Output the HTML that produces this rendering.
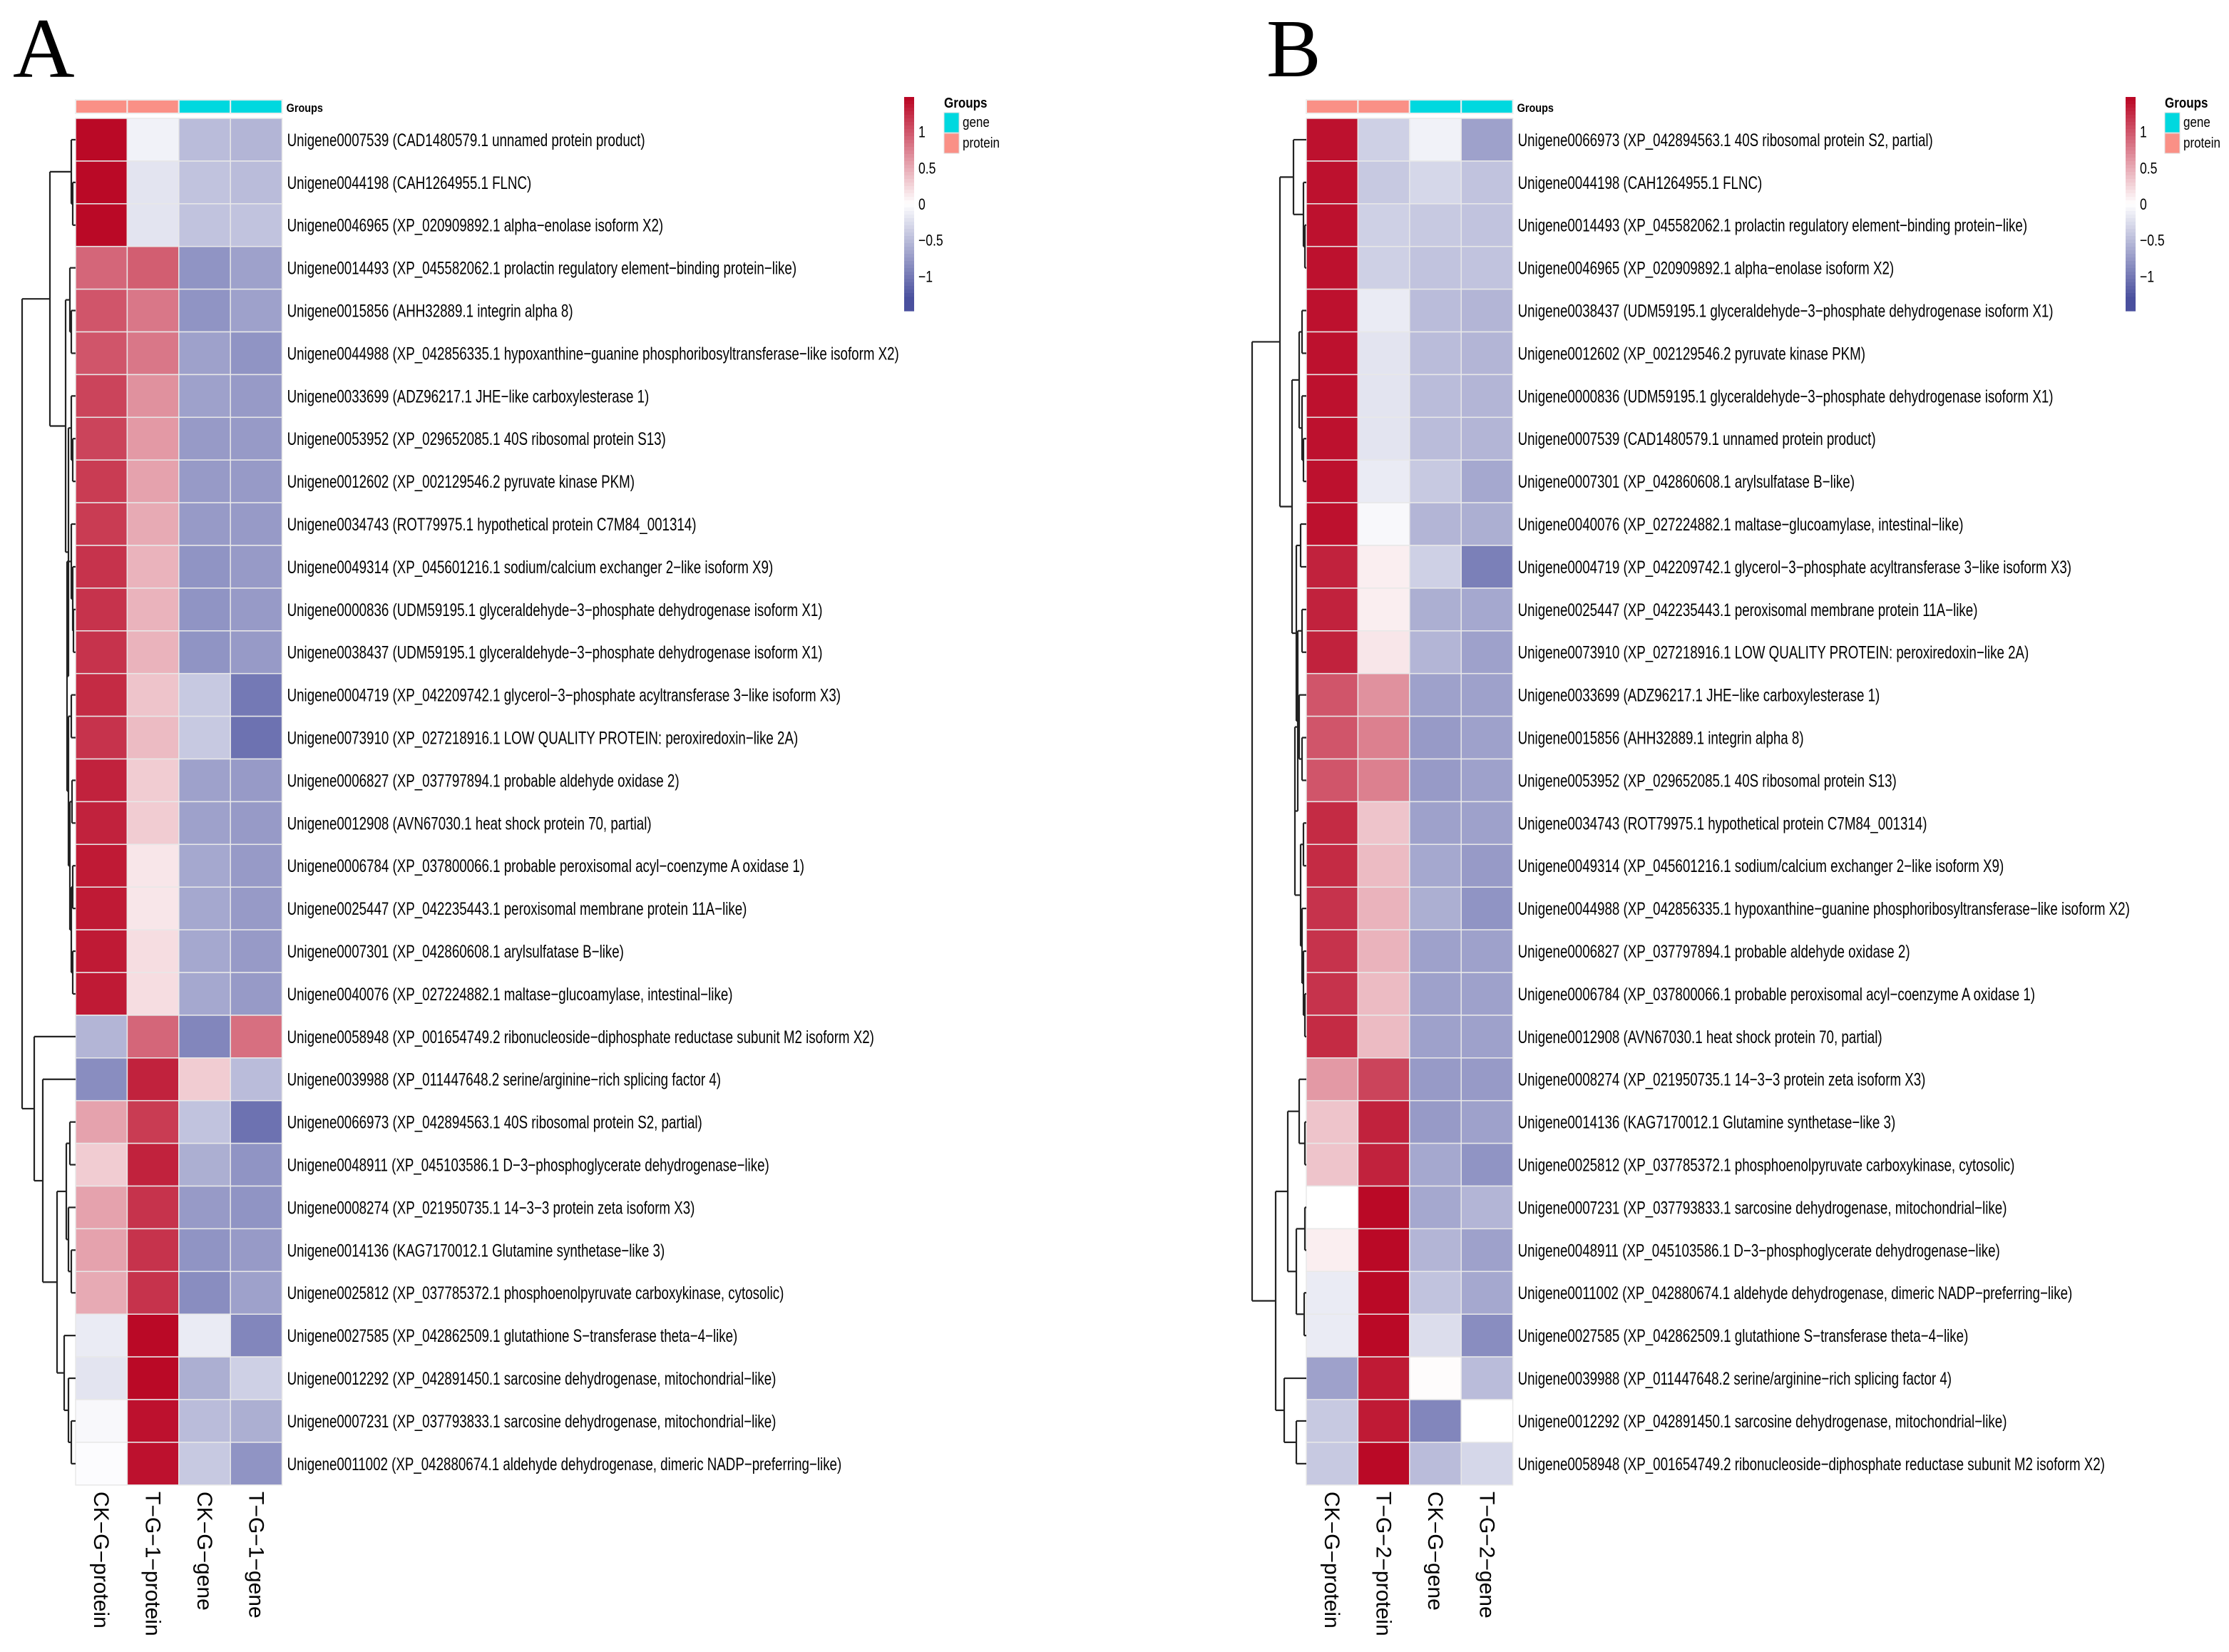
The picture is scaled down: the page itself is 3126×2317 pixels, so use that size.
<!DOCTYPE html>
<html><head><meta charset="utf-8"><style>
html,body{margin:0;padding:0;background:#fff;}
svg{display:block;}
text{font-family:"Liberation Sans",sans-serif;}
</style></head><body>
<svg id="chart" xmlns="http://www.w3.org/2000/svg" width="3126" height="2317" viewBox="0 0 3126 2317">
<rect x="0" y="0" width="3126" height="2317" fill="#fff"/>
<text x="18" y="108" font-size="120" style="font-family:'Liberation Serif',serif">A</text>
<text x="1776" y="107" font-size="115" style="font-family:'Liberation Serif',serif">B</text>
<g id="pa"></g>
<g id="pb"></g>
</svg>
<script>
const colsA = ["CK\u2212G\u2212protein","T\u2212G\u22121\u2212protein","CK\u2212G\u2212gene","T\u2212G\u22121\u2212gene"];
const colsB = ["CK\u2212G\u2212protein","T\u2212G\u22122\u2212protein","CK\u2212G\u2212gene","T\u2212G\u22122\u2212gene"];
const groupsCols = ["protein","protein","gene","gene"];
const rowsA = [
"Unigene0007539 (CAD1480579.1 unnamed protein product)",
"Unigene0044198 (CAH1264955.1 FLNC)",
"Unigene0046965 (XP_020909892.1 alpha\u2212enolase isoform X2)",
"Unigene0014493 (XP_045582062.1 prolactin regulatory element\u2212binding protein\u2212like)",
"Unigene0015856 (AHH32889.1 integrin alpha 8)",
"Unigene0044988 (XP_042856335.1 hypoxanthine\u2212guanine phosphoribosyltransferase\u2212like isoform X2)",
"Unigene0033699 (ADZ96217.1 JHE\u2212like carboxylesterase 1)",
"Unigene0053952 (XP_029652085.1 40S ribosomal protein S13)",
"Unigene0012602 (XP_002129546.2 pyruvate kinase PKM)",
"Unigene0034743 (ROT79975.1 hypothetical protein C7M84_001314)",
"Unigene0049314 (XP_045601216.1 sodium/calcium exchanger 2\u2212like isoform X9)",
"Unigene0000836 (UDM59195.1 glyceraldehyde\u22123\u2212phosphate dehydrogenase isoform X1)",
"Unigene0038437 (UDM59195.1 glyceraldehyde\u22123\u2212phosphate dehydrogenase isoform X1)",
"Unigene0004719 (XP_042209742.1 glycerol\u22123\u2212phosphate acyltransferase 3\u2212like isoform X3)",
"Unigene0073910 (XP_027218916.1 LOW QUALITY PROTEIN: peroxiredoxin\u2212like 2A)",
"Unigene0006827 (XP_037797894.1 probable aldehyde oxidase 2)",
"Unigene0012908 (AVN67030.1 heat shock protein 70, partial)",
"Unigene0006784 (XP_037800066.1 probable peroxisomal acyl\u2212coenzyme A oxidase 1)",
"Unigene0025447 (XP_042235443.1 peroxisomal membrane protein 11A\u2212like)",
"Unigene0007301 (XP_042860608.1 arylsulfatase B\u2212like)",
"Unigene0040076 (XP_027224882.1 maltase\u2212glucoamylase, intestinal\u2212like)",
"Unigene0058948 (XP_001654749.2 ribonucleoside\u2212diphosphate reductase subunit M2 isoform X2)",
"Unigene0039988 (XP_011447648.2 serine/arginine\u2212rich splicing factor 4)",
"Unigene0066973 (XP_042894563.1 40S ribosomal protein S2, partial)",
"Unigene0048911 (XP_045103586.1 D\u22123\u2212phosphoglycerate dehydrogenase\u2212like)",
"Unigene0008274 (XP_021950735.1 14\u22123\u22123 protein zeta isoform X3)",
"Unigene0014136 (KAG7170012.1 Glutamine synthetase\u2212like 3)",
"Unigene0025812 (XP_037785372.1 phosphoenolpyruvate carboxykinase, cytosolic)",
"Unigene0027585 (XP_042862509.1 glutathione S\u2212transferase theta\u22124\u2212like)",
"Unigene0012292 (XP_042891450.1 sarcosine dehydrogenase, mitochondrial\u2212like)",
"Unigene0007231 (XP_037793833.1 sarcosine dehydrogenase, mitochondrial\u2212like)",
"Unigene0011002 (XP_042880674.1 aldehyde dehydrogenase, dimeric NADP\u2212preferring\u2212like)"
];
const rowsB = [
"Unigene0066973 (XP_042894563.1 40S ribosomal protein S2, partial)",
"Unigene0044198 (CAH1264955.1 FLNC)",
"Unigene0014493 (XP_045582062.1 prolactin regulatory element\u2212binding protein\u2212like)",
"Unigene0046965 (XP_020909892.1 alpha\u2212enolase isoform X2)",
"Unigene0038437 (UDM59195.1 glyceraldehyde\u22123\u2212phosphate dehydrogenase isoform X1)",
"Unigene0012602 (XP_002129546.2 pyruvate kinase PKM)",
"Unigene0000836 (UDM59195.1 glyceraldehyde\u22123\u2212phosphate dehydrogenase isoform X1)",
"Unigene0007539 (CAD1480579.1 unnamed protein product)",
"Unigene0007301 (XP_042860608.1 arylsulfatase B\u2212like)",
"Unigene0040076 (XP_027224882.1 maltase\u2212glucoamylase, intestinal\u2212like)",
"Unigene0004719 (XP_042209742.1 glycerol\u22123\u2212phosphate acyltransferase 3\u2212like isoform X3)",
"Unigene0025447 (XP_042235443.1 peroxisomal membrane protein 11A\u2212like)",
"Unigene0073910 (XP_027218916.1 LOW QUALITY PROTEIN: peroxiredoxin\u2212like 2A)",
"Unigene0033699 (ADZ96217.1 JHE\u2212like carboxylesterase 1)",
"Unigene0015856 (AHH32889.1 integrin alpha 8)",
"Unigene0053952 (XP_029652085.1 40S ribosomal protein S13)",
"Unigene0034743 (ROT79975.1 hypothetical protein C7M84_001314)",
"Unigene0049314 (XP_045601216.1 sodium/calcium exchanger 2\u2212like isoform X9)",
"Unigene0044988 (XP_042856335.1 hypoxanthine\u2212guanine phosphoribosyltransferase\u2212like isoform X2)",
"Unigene0006827 (XP_037797894.1 probable aldehyde oxidase 2)",
"Unigene0006784 (XP_037800066.1 probable peroxisomal acyl\u2212coenzyme A oxidase 1)",
"Unigene0012908 (AVN67030.1 heat shock protein 70, partial)",
"Unigene0008274 (XP_021950735.1 14\u22123\u22123 protein zeta isoform X3)",
"Unigene0014136 (KAG7170012.1 Glutamine synthetase\u2212like 3)",
"Unigene0025812 (XP_037785372.1 phosphoenolpyruvate carboxykinase, cytosolic)",
"Unigene0007231 (XP_037793833.1 sarcosine dehydrogenase, mitochondrial\u2212like)",
"Unigene0048911 (XP_045103586.1 D\u22123\u2212phosphoglycerate dehydrogenase\u2212like)",
"Unigene0011002 (XP_042880674.1 aldehyde dehydrogenase, dimeric NADP\u2212preferring\u2212like)",
"Unigene0027585 (XP_042862509.1 glutathione S\u2212transferase theta\u22124\u2212like)",
"Unigene0039988 (XP_011447648.2 serine/arginine\u2212rich splicing factor 4)",
"Unigene0012292 (XP_042891450.1 sarcosine dehydrogenase, mitochondrial\u2212like)",
"Unigene0058948 (XP_001654749.2 ribonucleoside\u2212diphosphate reductase subunit M2 isoform X2)"
];
const valsA = [
[1.45,-0.1,-0.5,-0.55],[1.45,-0.2,-0.45,-0.5],[1.45,-0.2,-0.45,-0.45],[0.9,0.95,-0.8,-0.7],
[1.0,0.8,-0.8,-0.7],[1.0,0.8,-0.7,-0.8],[1.1,0.65,-0.7,-0.75],[1.1,0.6,-0.75,-0.75],
[1.15,0.55,-0.75,-0.75],[1.15,0.5,-0.75,-0.75],[1.2,0.45,-0.8,-0.75],[1.2,0.45,-0.8,-0.75],
[1.2,0.45,-0.8,-0.75],[1.25,0.35,-0.4,-1.0],[1.2,0.4,-0.4,-1.05],[1.3,0.3,-0.7,-0.75],
[1.3,0.3,-0.7,-0.75],[1.35,0.15,-0.65,-0.75],[1.35,0.15,-0.65,-0.75],[1.35,0.2,-0.65,-0.75],
[1.35,0.2,-0.65,-0.75],[-0.55,0.9,-0.9,0.85],[-0.85,1.3,0.3,-0.5],[0.55,1.15,-0.45,-1.05],
[0.3,1.3,-0.6,-0.8],[0.55,1.2,-0.75,-0.8],[0.55,1.2,-0.8,-0.75],[0.5,1.2,-0.85,-0.7],
[-0.15,1.45,-0.15,-0.9],[-0.2,1.45,-0.6,-0.35],[-0.05,1.4,-0.5,-0.6],[-0.02,1.4,-0.4,-0.8]
];
const valsB = [
[1.4,-0.35,-0.1,-0.7],[1.4,-0.4,-0.3,-0.45],[1.4,-0.35,-0.4,-0.45],[1.4,-0.35,-0.45,-0.45],
[1.4,-0.15,-0.5,-0.55],[1.4,-0.2,-0.5,-0.55],[1.4,-0.2,-0.5,-0.55],[1.4,-0.2,-0.5,-0.55],
[1.4,-0.15,-0.4,-0.65],[1.4,-0.05,-0.55,-0.6],[1.3,0.1,-0.35,-0.95],[1.3,0.1,-0.6,-0.65],
[1.3,0.15,-0.55,-0.7],[1.0,0.65,-0.7,-0.7],[1.0,0.75,-0.75,-0.7],[1.0,0.75,-0.75,-0.7],
[1.25,0.35,-0.7,-0.7],[1.25,0.4,-0.65,-0.75],[1.2,0.45,-0.6,-0.8],[1.2,0.45,-0.7,-0.7],
[1.2,0.4,-0.7,-0.7],[1.25,0.4,-0.7,-0.7],[0.6,1.1,-0.75,-0.75],[0.35,1.3,-0.75,-0.7],
[0.35,1.3,-0.65,-0.8],[0.0,1.45,-0.65,-0.55],[0.1,1.45,-0.55,-0.7],[-0.15,1.45,-0.45,-0.65],
[-0.15,1.45,-0.25,-0.85],[-0.7,1.35,0.02,-0.5],[-0.4,1.35,-0.9,0.0],[-0.4,1.45,-0.5,-0.3]
];
const colorTicks = [1,0.5,0,-0.5,-1];
const colorTickLabels = ["1","0.5","0","\u22120.5","\u22121"];
const treeA = [31,[70,[100,0,[102,1,2]],[92,[98,3,[100,4,5]],[96,[100,6,[102,7,8]],[94,[100,9,[102,10,[103,11,12]]],[96,[100,13,14],[98,[101,15,16],[100,[102,17,18],[102,19,20]]]]]]]],[48,21,[60,22,[80,[93,[98,23,24],[96,25,[100,26,27]]],[90,28,[96,29,[100,30,31]]]]]]];
const treeB = [1756,[1795,[1814,0,[1828,1,[1830,2,3]]],[1812,[1822,[1826,4,5],[1826,6,[1828,7,8]]],[1818,[1824,9,10],[1820,[1826,11,12],[1816,[1822,13,[1826,14,15]],[1824,[1828,16,17],[1826,18,[1828,19,[1830,20,21]]]]]]]]],[1789,[1806,[1822,22,[1830,23,24]],[1818,[1830,25,26],[1829,27,28]]],[1801,29,[1818,30,31]]]];

const NS="http://www.w3.org/2000/svg";
function mk(tag,attrs,parent){const e=document.createElementNS(NS,tag);for(const k in attrs)e.setAttribute(k,attrs[k]);parent.appendChild(e);return e;}
function colorOf(v){
  const lo=[74,80,158], hi=[184,0,31], w=[255,255,255];
  let t=Math.max(-1,Math.min(1,v/1.5));
  const end=t<0?lo:hi;
  t=Math.abs(t);
  if(v<0) t=Math.min(1,t*1.15);
  const c=w.map((x,i)=>Math.round(x+(end[i]-x)*t));
  return `rgb(${c[0]},${c[1]},${c[2]})`;
}
const groupColor={protein:"#fa9086",gene:"#00d8df"};

function panel(g, o){
  const x0=o.x0, cw=72.4, y0=166, rh=59.9;
  const xS=j=>x0+j*cw, yS=i=>y0+i*rh;
  groupsCols.forEach((gr,j)=>{
    const r=mk("rect",{x:xS(j),y:140,width:cw,height:19,fill:groupColor[gr],stroke:"#eee","stroke-width":2},g);
    
    
  });
  const gl=mk("text",{x:(xS(4)+6)/0.85,y:157,"font-size":17,"font-weight":"bold",transform:`scale(0.85,1)`},g);
  gl.textContent="Groups";
  
  
  o.vals.forEach((row,i)=>{
    row.forEach((v,j)=>{
      const r=mk("rect",{x:xS(j),y:yS(i),width:cw,height:rh,fill:colorOf(v),stroke:"#e8e8e8","stroke-width":1.5},g);
      
      
    });
    const t=mk("text",{x:(xS(4)+7)/0.75,y:yS(i)+rh/2+9,"font-size":25,transform:"scale(0.75,1)"},g);
    t.textContent=o.rows[i];
    
    
  });
  o.cols.forEach((c,j)=>{
    const cx=xS(j)+cw/2-10, cy=2092;
    const t=mk("text",{x:cx,y:cy,"font-size":30,transform:`rotate(90 ${cx} ${cy})`},g);
    t.textContent=c;
    
    
  });
  const dg=mk("g",{stroke:"#222","stroke-width":2.2,fill:"none"},g);
  
  
  function draw(n){
    if(typeof n==="number") return {x:x0,y:yS(n)+rh/2};
    const nx=o.abs?n[0]:x0-(106-n[0]);
    const a=draw(n[1]), b=draw(n[2]);
    mk("line",{x1:nx,y1:a.y,x2:nx,y2:b.y},dg);
    mk("line",{x1:nx,y1:a.y,x2:a.x,y2:a.y},dg);
    mk("line",{x1:nx,y1:b.y,x2:b.x,y2:b.y},dg);
    return {x:nx,y:(a.y+b.y)/2};
  }
  draw(o.tree);
  const cbx=o.cbx, cbTop=136, cbBot=436, vmax=1.48;
  const cy=v=>cbTop+(vmax-v)/(2*vmax)*(cbBot-cbTop);
  const n=60;
  for(let k=0;k<n;k++){
    const v=vmax-(k+0.5)*(2*vmax/n);
    const r=mk("rect",{x:cbx,y:cbTop+k*(cbBot-cbTop)/n,width:14,height:(cbBot-cbTop)/n+0.6,fill:colorOf(v)},g);
    
    
  }
  colorTicks.forEach((v,k)=>{
    const t=mk("text",{x:(cbx+20)/0.8,y:cy(v)+8,"font-size":22,transform:"scale(0.8,1)"},g);
    t.textContent=colorTickLabels[k];
    
    
  });
  const lx=o.lx;
  const lt=mk("text",{x:lx/0.85,y:151,"font-size":20,"font-weight":"bold",transform:"scale(0.85,1)"},g);
  lt.textContent="Groups";
  
  
  [["gene",158],["protein",187]].forEach(([nm,y])=>{
    const r=mk("rect",{x:lx,y:y,width:21,height:28,fill:groupColor[nm],stroke:"#ddd","stroke-width":1},g);
    
    
    const t=mk("text",{x:(lx+26)/0.85,y:y+20,"font-size":20,transform:"scale(0.85,1)"},g);
    t.textContent=nm;
    
    
  });
}
panel(document.getElementById("pa"),{x0:106,vals:valsA,rows:rowsA,cols:colsA,tree:treeA,abs:false,cbx:1268,lx:1324});
panel(document.getElementById("pb"),{x0:1832,vals:valsB,rows:rowsB,cols:colsB,tree:treeB,abs:true,cbx:2981,lx:3036});
</script>
</body></html>
